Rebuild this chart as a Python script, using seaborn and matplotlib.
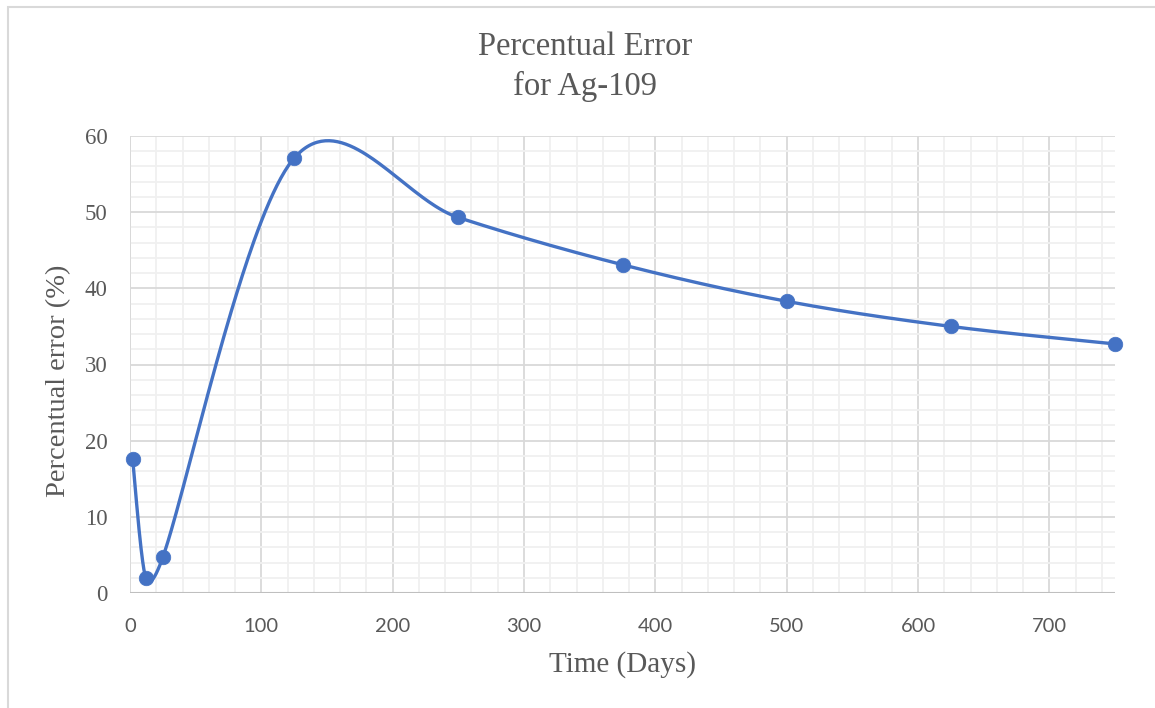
import numpy as np
import pandas as pd
import matplotlib
matplotlib.use("Agg")
import matplotlib.pyplot as plt
from matplotlib.ticker import MultipleLocator
from matplotlib.patches import Rectangle
import seaborn as sns

# Measured percentual error for Ag-109 over time
days = [2, 12, 25, 125, 250, 375, 500, 625, 750]
error_pct = [17.55, 1.95, 4.7, 57.1, 49.3, 43.1, 38.3, 35.0, 32.7]

LINE_COLOR = "#4472C4"
TEXT_COLOR = "#595959"


def smooth_curve(ax, xs, ys, n=80):
    """Spreadsheet-style smoothed line: cubic Bezier segments built in
    display space, with control-point offsets capped at half a segment."""
    pts = ax.transData.transform(np.column_stack([xs, ys]).astype(float))
    out = []
    for i in range(len(pts) - 1):
        p0 = pts[i - 1] if i > 0 else pts[i]
        p1, p2 = pts[i], pts[i + 1]
        p3 = pts[i + 2] if i + 2 < len(pts) else pts[i + 1]
        d12 = np.linalg.norm(p2 - p1)
        v1 = (p2 - p0) / 6.0
        v2 = (p3 - p1) / 6.0
        for v in (v1, v2):
            L = np.linalg.norm(v)
            cap = d12 / 2
            if L > cap and L > 0:
                v *= cap / L
        b1 = p1 + v1
        b2 = p2 - v2
        t = np.linspace(0, 1, n)[:, None]
        seg = ((1 - t) ** 3) * p1 + 3 * ((1 - t) ** 2) * t * b1 \
            + 3 * (1 - t) * t ** 2 * b2 + t ** 3 * p2
        out.append(seg if i == 0 else seg[1:])
    c = ax.transData.inverted().transform(np.vstack(out))
    return c[:, 0], c[:, 1]


sns.set_theme(style="white")
plt.rcParams["font.family"] = ["Lato", "DejaVu Sans"]
serif = ["Liberation Serif", "DejaVu Serif"]

fig = plt.figure(figsize=(11.55, 7.08), dpi=100)
ax = fig.add_axes([130 / 1155, 1 - 593 / 708, 985 / 1155, 457 / 708])
ax.set_xlim(0, 750)
ax.set_ylim(0, 60)

sx, sy = smooth_curve(ax, days, error_pct)
curve = pd.DataFrame({"day": sx, "err": sy})
pts = pd.DataFrame({"day": days, "err": error_pct})

sns.lineplot(data=curve, x="day", y="err", ax=ax, color=LINE_COLOR,
             linewidth=2.4, sort=False, estimator=None, zorder=3)
sns.scatterplot(data=pts, x="day", y="err", ax=ax, color=LINE_COLOR,
                s=110, edgecolor=LINE_COLOR, linewidth=0.5, zorder=4,
                clip_on=False)

ax.set_xlim(0, 750)
ax.set_ylim(0, 60)
ax.xaxis.set_major_locator(MultipleLocator(100))
ax.xaxis.set_minor_locator(MultipleLocator(20))
ax.yaxis.set_major_locator(MultipleLocator(10))
ax.yaxis.set_minor_locator(MultipleLocator(2))

ax.grid(which="major", color="#D9D9D9", linewidth=1.3)
ax.grid(which="minor", color="#F0F0F0", linewidth=1.3)
ax.set_axisbelow(True)
for s in ax.spines.values():
    s.set_visible(False)
ax.axhline(0, color="#BFBFBF", linewidth=1.5, zorder=2)
ax.axvline(0, color="#D9D9D9", linewidth=1.3, zorder=1)

ax.tick_params(axis="both", which="both", length=0, labelcolor=TEXT_COLOR)
ax.tick_params(axis="x", labelsize=14.5, pad=18)
ax.tick_params(axis="y", pad=16)
for lab in ax.get_yticklabels():
    lab.set_fontfamily(serif)
    lab.set_fontsize(16.5)

ax.set_xlabel("Time (Days)", fontsize=21, color=TEXT_COLOR, family=serif)
ax.set_ylabel("Percentual error (%)", fontsize=20.5, color=TEXT_COLOR,
              family=serif)
ax.xaxis.label.set_va("center")
ax.yaxis.label.set_va("center")
ax.xaxis.set_label_coords(0.5, (593 - 665) / 457)
ax.yaxis.set_label_coords((59 - 130) / 985, (593 - 381) / 457)

fig.text(585 / 1155, 1 - 47 / 708, "Percentual Error", ha="center",
         va="center", fontsize=23.5, color=TEXT_COLOR, family=serif)
fig.text(585 / 1155, 1 - 86 / 708, "for Ag-109", ha="center",
         va="center", fontsize=23.5, color=TEXT_COLOR, family=serif)

# Chart area border
fig.patches.append(Rectangle((8 / 1155, -0.05), 1.2, 1 - 7 / 708 + 0.05,
                             transform=fig.transFigure, fill=False,
                             edgecolor="#D9D9D9", linewidth=1.5))

fig.savefig("out.png", dpi=100, facecolor="white")
